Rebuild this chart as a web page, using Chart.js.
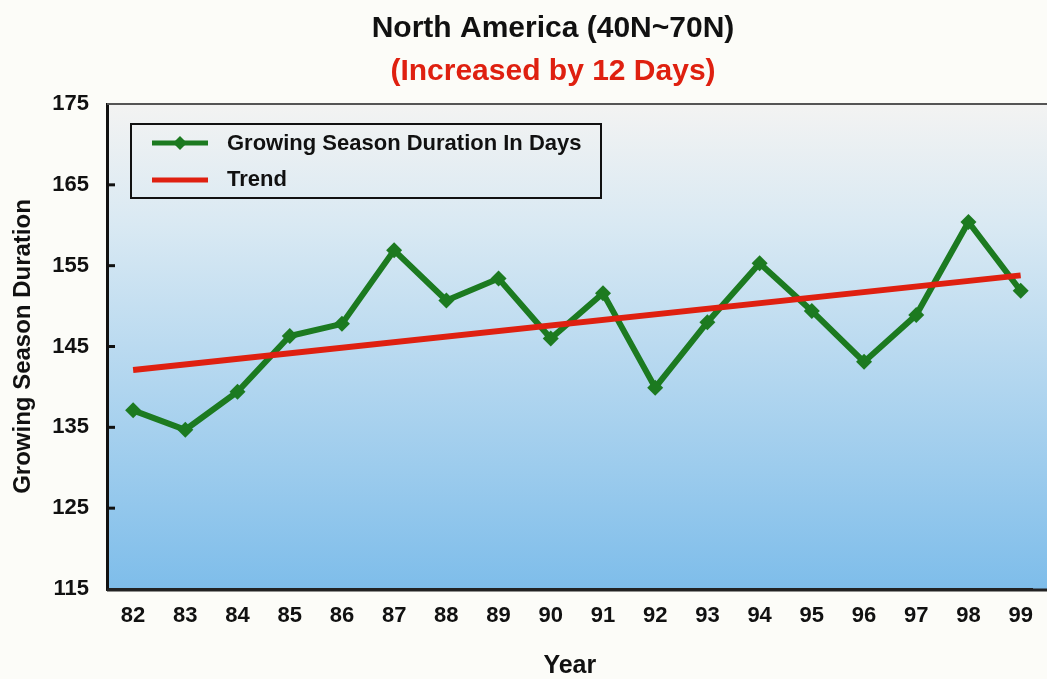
<!DOCTYPE html>
<html>
<head>
<meta charset="utf-8">
<title>North America (40N~70N)</title>
<script src="https://cdn.jsdelivr.net/npm/chart.js@4.4.1/dist/chart.umd.min.js"></script>
<style>
  html, body { margin: 0; padding: 0; background: #fcfcf8; }
  canvas { display: block; }
</style>
</head>
<body>
<canvas id="seasonChart" width="1047" height="679"></canvas>
<script>
// values
const years = [82, 83, 84, 85, 86, 87, 88, 89, 90, 91, 92, 93, 94, 95, 96, 97, 98, 99];
const duration = [137.1, 134.7, 139.4, 146.3, 147.8, 156.9, 150.7, 153.4, 146.0,
                  151.6, 139.9, 148.0, 155.3, 149.4, 143.1, 148.9, 160.4, 151.9];
const trendYears = [82, 99];
const trendValues = [142.1, 153.8];
const yTicks = [115, 125, 135, 145, 155, 165, 175];

const FONT = "'Liberation Sans', Arial, Helvetica, sans-serif";
const GREEN = '#1c7a20';
const RED = '#df2010';

// plot background, top border, inside ticks, legend and titles
const decorations = {
  id: 'decorations',
  beforeDraw(chart) {
    const {ctx, chartArea: a} = chart;
    ctx.save();
    ctx.fillStyle = '#fcfcf8';
    ctx.fillRect(0, 0, chart.width, chart.height);
    const g = ctx.createLinearGradient(0, a.top, 0, a.bottom);
    g.addColorStop(0, '#f3f3f2');
    g.addColorStop(0.25, '#d9e9f3');
    g.addColorStop(1, '#7ebdea');
    ctx.fillStyle = g;
    ctx.fillRect(a.left, a.top, chart.width - a.left, a.bottom - a.top);
    ctx.restore();
  },
  afterDraw(chart) {
    const {ctx, chartArea: a} = chart;
    const y = chart.scales.y;
    ctx.save();
    // top frame line
    ctx.strokeStyle = '#555';
    ctx.lineWidth = 2;
    ctx.beginPath();
    ctx.moveTo(a.left, a.top);
    ctx.lineTo(chart.width, a.top);
    ctx.stroke();
    // bottom frame runs to the edge
    ctx.strokeStyle = '#222';
    ctx.lineWidth = 3;
    ctx.beginPath();
    ctx.moveTo(a.left, a.bottom + 1);
    ctx.lineTo(chart.width, a.bottom + 1);
    ctx.stroke();
    // tick marks pointing into the plot
    ctx.strokeStyle = '#111';
    ctx.lineWidth = 3;
    yTicks.slice(1, -1).forEach(v => {
      const py = y.getPixelForValue(v);
      ctx.beginPath();
      ctx.moveTo(a.left, py);
      ctx.lineTo(a.left + 8, py);
      ctx.stroke();
    });

    // legend
    ctx.strokeStyle = '#111';
    ctx.lineWidth = 2;
    ctx.strokeRect(131, 124, 470, 74);
    ctx.lineWidth = 5;
    ctx.strokeStyle = GREEN;
    ctx.beginPath(); ctx.moveTo(152, 143); ctx.lineTo(208, 143); ctx.stroke();
    ctx.fillStyle = GREEN;
    ctx.beginPath();
    ctx.moveTo(180, 136); ctx.lineTo(187, 143); ctx.lineTo(180, 150); ctx.lineTo(173, 143);
    ctx.closePath(); ctx.fill();
    ctx.strokeStyle = RED;
    ctx.beginPath(); ctx.moveTo(152, 180); ctx.lineTo(208, 180); ctx.stroke();
    ctx.fillStyle = '#111';
    ctx.font = 'bold 22px ' + FONT;
    ctx.textBaseline = 'middle';
    ctx.textAlign = 'left';
    ctx.fillText('Growing Season Duration In Days', 227, 144);
    ctx.fillText('Trend', 227, 180);

    // titles
    ctx.textAlign = 'center';
    ctx.textBaseline = 'alphabetic';
    ctx.font = 'bold 30px ' + FONT;
    ctx.fillStyle = '#111';
    ctx.fillText('North America (40N~70N)', 553, 37);
    ctx.fillStyle = RED;
    ctx.fillText('(Increased by 12 Days)', 553, 80);
    ctx.restore();
  }
};

new Chart(document.getElementById('seasonChart'), {
  type: 'line',
  data: {
    datasets: [
      {
        label: 'Trend',
        data: trendYears.map((x, i) => ({x: x, y: trendValues[i]})),
        borderColor: RED,
        borderWidth: 6,
        pointRadius: 0,
        order: 0
      },
      {
        label: 'Growing Season Duration In Days',
        data: years.map((x, i) => ({x: x, y: duration[i]})),
        borderColor: GREEN,
        backgroundColor: GREEN,
        borderWidth: 6,
        pointStyle: 'rectRot',
        pointRadius: 8,
        pointBorderWidth: 0,
        pointBackgroundColor: GREEN,
        order: 1
      }
    ]
  },
  options: {
    responsive: false,
    animation: false,
    layout: { padding: { top: 104, right: 0, left: 0, bottom: 0 } },
    plugins: {
      legend: { display: false },
      tooltip: { enabled: false }
    },
    scales: {
      x: {
        type: 'linear',
        min: 81.5,
        max: 99.23,
        afterBuildTicks: s => { s.ticks = years.map(v => ({value: v})); },
        afterFit: s => { s.height = 90; },
        grid: { drawOnChartArea: false, drawTicks: false },
        border: { color: '#222', width: 3 },
        ticks: {
          color: '#111',
          padding: 14,
          maxRotation: 0,
          autoSkip: false,
          font: { family: FONT, size: 22, weight: 'bold' },
          callback: v => String(v)
        },
        title: {
          display: true,
          text: 'Year',
          color: '#111',
          padding: 0,
          font: { family: FONT, size: 25, weight: 'bold', lineHeight: 1 }
        }
      },
      y: {
        min: 115,
        max: 175,
        afterBuildTicks: s => { s.ticks = yTicks.map(v => ({value: v})); },
        afterFit: s => { s.width = 107; },
        grid: { drawOnChartArea: false, drawTicks: false },
        border: { color: '#111', width: 3 },
        ticks: {
          color: '#111',
          padding: 18,
          font: { family: FONT, size: 22, weight: 'bold' }
        },
        title: {
          display: true,
          text: 'Growing Season Duration',
          color: '#111',
          padding: { top: 11, bottom: 0 },
          font: { family: FONT, size: 24, weight: 'bold', lineHeight: 1 }
        }
      }
    }
  },
  plugins: [decorations]
});
</script>
</body>
</html>
